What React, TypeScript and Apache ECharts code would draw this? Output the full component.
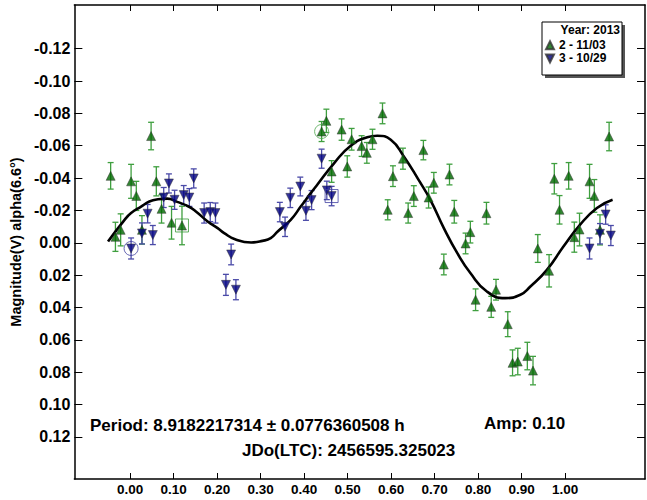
import React, { useEffect, useRef } from "react";
import * as echarts from "echarts";

// [phase, magnitude, error]
const session2: number[][] = [
  [-0.045, -0.0414, 0.0082], [0.048, -0.066, 0.0085], [0.002, -0.038, 0.0105], [0.014, -0.029, 0.009],
  [0.06, -0.038, 0.009], [-0.034, -0.0037, 0.009], [-0.022, -0.008, 0.0099], [0.027, -0.008, 0.0088],
  [0.072, -0.021, 0.0088], [0.095, -0.0124, 0.0101], [0.119, -0.0107, 0.0119], [0.451, -0.0754, 0.0072],
  [0.44, -0.0688, 0.0062], [0.486, -0.07, 0.0066], [0.509, -0.064, 0.0067], [0.532, -0.0598, 0.0064],
  [0.544, -0.0556, 0.0064], [0.557, -0.064, 0.0062], [0.58, -0.08, 0.0064], [0.463, -0.0441, 0.0067],
  [0.499, -0.0472, 0.0066], [0.627, -0.052, 0.0065], [0.604, -0.0412, 0.0064], [0.592, -0.0204, 0.0062],
  [0.639, -0.0184, 0.0062], [0.652, -0.0289, 0.0064], [0.674, -0.0573, 0.006], [0.698, -0.0371, 0.0064],
  [0.686, -0.028, 0.0065], [0.734, -0.0422, 0.0064], [0.745, -0.0192, 0.007], [0.819, -0.0183, 0.0067],
  [0.782, -0.0066, 0.0067], [0.771, 0.0004, 0.0064], [0.721, 0.0134, 0.0064], [0.841, 0.029, 0.0064],
  [0.794, 0.0352, 0.0067], [0.83, 0.0396, 0.0065], [0.868, 0.0503, 0.0077], [0.879, 0.0742, 0.008],
  [0.891, 0.0734, 0.0082], [0.913, 0.07, 0.0085], [0.926, 0.079, 0.0088], [0.937, 0.0035, 0.0086],
  [0.963, 0.0173, 0.01], [0.975, -0.0396, 0.0094], [0.987, -0.0204, 0.0088], [1.008, -0.0414, 0.0082],
  [1.021, -0.0035, 0.0093], [1.033, -0.0082, 0.0101], [1.056, -0.038, 0.0105], [1.067, -0.029, 0.0101],
  [1.101, -0.0657, 0.0088], [1.08, -0.008, 0.0093],
];

const session3: number[][] = [
  [0.002, 0.0035, 0.0065], [0.027, -0.0058, 0.0065], [0.04, -0.018, 0.0057], [0.052, -0.0048, 0.0059],
  [0.077, -0.028, 0.0062], [0.089, -0.0367, 0.0059], [0.102, -0.0266, 0.0059], [0.123, -0.0295, 0.0059],
  [0.136, -0.028, 0.0055], [0.146, -0.0398, 0.0059], [0.17, -0.0184, 0.0062], [0.184, -0.019, 0.0059],
  [0.196, -0.0184, 0.0062], [0.232, 0.0072, 0.0064], [0.22, 0.026, 0.0065], [0.243, 0.029, 0.0062],
  [0.344, -0.019, 0.006], [0.356, -0.0099, 0.006], [0.368, -0.0278, 0.006], [0.391, -0.0348, 0.0058],
  [0.404, -0.0198, 0.0059], [0.417, -0.0264, 0.0059], [0.44, -0.052, 0.0059], [0.452, -0.0324, 0.0057],
  [0.463, -0.0289, 0.006], [1.056, 0.0035, 0.0065], [1.08, -0.0056, 0.0063], [1.093, -0.0175, 0.006],
  [1.105, -0.0045, 0.0062],
];

const curvePhase = [
  -0.051, -0.013, 0.002, 0.025, 0.044, 0.064, 0.085, 0.108, 0.133, 0.151, 0.178, 0.201, 0.216, 0.241,
  0.278, 0.304, 0.323, 0.339, 0.369, 0.392, 0.415, 0.43, 0.469, 0.507, 0.545, 0.568, 0.599, 0.629,
  0.663, 0.69, 0.721, 0.752, 0.782, 0.82, 0.862, 0.897, 0.92, 0.958, 0.996, 1.034, 1.073, 1.109,
];
const curveMag = [
  -0.0008, -0.0142, -0.0184, -0.0224, -0.0255, -0.0269, -0.0273, -0.0253, -0.0226, -0.0194, -0.0132,
  -0.0091, -0.006, -0.0022, -0.0002, -0.0012, -0.0029, -0.007, -0.0142, -0.0224, -0.0307, -0.0359,
  -0.0493, -0.06, -0.0653, -0.0662, -0.0637, -0.0534, -0.0389, -0.0266, -0.0091, 0.0064, 0.0187,
  0.0301, 0.0342, 0.0321, 0.027, 0.0167, 0.0023, -0.0111, -0.0215, -0.0266,
];

const xTicks = [0, 0.1, 0.2, 0.3, 0.4, 0.5, 0.6, 0.7, 0.8, 0.9, 1.0];
const yTicks = [-0.12, -0.1, -0.08, -0.06, -0.04, -0.02, 0, 0.02, 0.04, 0.06, 0.08, 0.1, 0.12];

const seriesNames = ["2 - 11/03", "3 - 10/29"];
const yearLabel = "Year: 2013";
const yAxisName = "Magnitude(V) alpha(6.6°)";
const periodText = "Period: 8.9182217314 ± 0.0776360508 h";
const ampText = "Amp: 0.10";
const jdText = "JDo(LTC): 2456595.325023";

const X_MIN = -0.1284;
const X_MAX = 1.1835;
const Y_MIN = -0.147;
const Y_MAX = 0.146;

const FONT = "'Liberation Sans', Arial, sans-serif";
const GREEN = "#006800";
const GREEN_BAR = "#3f9f3f";
const NAVY = "#000080";
const NAVY_BAR = "#4a4aa8";
const DOWN_TRI = "path://M0,0L10,0L5,10Z";

function errorBars(data: number[][], color: string, name: string) {
  return {
    type: "custom",
    name,
    data,
    encode: { x: 0, y: 1 },
    z: 1,
    renderItem: (_params: any, api: any) => {
      const x = api.value(0);
      const y = api.value(1);
      const e = api.value(2);
      const a = api.coord([x, y - e]);
      const b = api.coord([x, y + e]);
      const cx = a[0];
      const w = 3;
      const style = { stroke: color, lineWidth: 1.3 };
      return {
        type: "group",
        children: [
          { type: "line", shape: { x1: cx, y1: a[1], x2: cx, y2: b[1] }, style },
          { type: "line", shape: { x1: cx - w, y1: a[1], x2: cx + w, y2: a[1] }, style },
          { type: "line", shape: { x1: cx - w, y1: b[1], x2: cx + w, y2: b[1] }, style },
        ],
      };
    },
  };
}

export default function App() {
  const ref = useRef<HTMLDivElement>(null);

  useEffect(() => {
    if (!ref.current) return;
    const chart = echarts.init(ref.current, null, { renderer: "svg" });

    const axisLine = { show: true, onZero: false, lineStyle: { color: "#000", width: 1.5 } };
    const hiddenLabel = { show: false };

    const option: any = {
      animation: false,
      backgroundColor: "#fff",
      grid: { left: 73, top: 5, width: 572, height: 474, containLabel: false },
      xAxis: [
        {
          type: "value",
          min: X_MIN,
          max: X_MAX,
          position: "bottom",
          axisLine,
          axisTick: { show: true, inside: true, length: 6, customValues: xTicks, lineStyle: { color: "#000", width: 1 } },
          axisLabel: {
            customValues: xTicks,
            formatter: (v: number) => v.toFixed(2),
            fontSize: 13.5,
            fontWeight: "bold",
            fontFamily: FONT,
            color: "#000",
            margin: 3,
          },
          splitLine: { show: false },
        },
        {
          type: "value",
          min: X_MIN,
          max: X_MAX,
          position: "top",
          axisLine,
          axisTick: { show: true, inside: true, length: 6, customValues: xTicks, lineStyle: { color: "#000", width: 1 } },
          axisLabel: hiddenLabel,
          splitLine: { show: false },
        },
      ],
      yAxis: [
        {
          type: "value",
          min: Y_MIN,
          max: Y_MAX,
          inverse: true,
          position: "left",
          axisLine,
          axisTick: { show: true, inside: true, length: 8, customValues: yTicks, lineStyle: { color: "#000", width: 1 } },
          axisLabel: {
            customValues: yTicks,
            formatter: (v: number) => v.toFixed(2),
            fontSize: 16,
            fontWeight: "bold",
            fontFamily: FONT,
            color: "#000",
            margin: 4,
          },
          splitLine: { show: false },
          name: yAxisName,
          nameLocation: "middle",
          nameRotate: 90,
          nameGap: 41,
          nameTextStyle: { fontSize: 14.5, fontWeight: "bold", fontFamily: FONT, color: "#000" },
        },
        {
          type: "value",
          min: Y_MIN,
          max: Y_MAX,
          inverse: true,
          position: "right",
          axisLine,
          axisTick: { show: true, inside: true, length: 8, customValues: yTicks, lineStyle: { color: "#000", width: 1 } },
          axisLabel: hiddenLabel,
          splitLine: { show: false },
        },
      ],
      legend: {
        data: [
          { name: seriesNames[0], icon: "triangle" },
          { name: seriesNames[1], icon: DOWN_TRI },
        ],
        orient: "vertical",
        left: 545,
        top: 38.5,
        itemWidth: 8,
        itemHeight: 8,
        itemGap: 0,
        padding: 0,
        selectedMode: false,
        z: 20,
        textStyle: { fontSize: 12, fontWeight: "bold", fontFamily: FONT, color: "#000", lineHeight: 13.3 },
      },
      graphic: [
        { type: "rect", z: 15, shape: { x: 545, y: 25, width: 80, height: 53 }, style: { fill: "#555" } },
        { type: "rect", z: 16, shape: { x: 542, y: 22, width: 80, height: 53 }, style: { fill: "#fff", stroke: "#000", lineWidth: 1 } },
        {
          type: "text", z: 17, x: 620, y: 30,
          style: { text: yearLabel, fontSize: 12, fontWeight: "bold", fontFamily: FONT, fill: "#000", align: "right", verticalAlign: "middle" },
        },
        {
          type: "text", z: 17, x: 90, y: 425,
          style: { text: periodText, fontSize: 17, fontWeight: "bold", fontFamily: FONT, fill: "#000", align: "left", verticalAlign: "middle" },
        },
        {
          type: "text", z: 17, x: 484, y: 423,
          style: { text: ampText, fontSize: 17, fontWeight: "bold", fontFamily: FONT, fill: "#000", align: "left", verticalAlign: "middle" },
        },
        {
          type: "text", z: 17, x: 242, y: 450,
          style: { text: jdText, fontSize: 17, fontWeight: "bold", fontFamily: FONT, fill: "#000", align: "left", verticalAlign: "middle" },
        },
      ],
      series: [
        errorBars(session2, GREEN_BAR, "err2"),
        errorBars(session3, NAVY_BAR, "err3"),
        {
          type: "line",
          name: "fit",
          data: curvePhase.map((p, i) => [p, curveMag[i]]),
          smooth: true,
          symbol: "none",
          lineStyle: { color: "#000", width: 2.6 },
          z: 2,
        },
        {
          type: "scatter",
          name: seriesNames[0],
          data: session2.map((p) => [p[0], p[1]]),
          symbol: "triangle",
          symbolSize: [9, 9],
          itemStyle: { color: GREEN, borderColor: "#333", borderWidth: 0.6 },
          z: 3,
        },
        {
          type: "scatter",
          name: seriesNames[1],
          data: session3.map((p) => [p[0], p[1]]),
          symbol: DOWN_TRI,
          symbolSize: [9, 9],
          itemStyle: { color: NAVY, borderColor: "#333", borderWidth: 0.6 },
          z: 3,
        },
        {
          type: "scatter",
          name: "circles",
          symbol: "circle",
          symbolSize: 14,
          z: 4,
          data: [
            { value: [session3[0][0], session3[0][1]], itemStyle: { color: "rgba(0,0,0,0)", borderColor: "#4040a0", borderWidth: 1 } },
            { value: [session2[12][0], session2[12][1]], itemStyle: { color: "rgba(0,0,0,0)", borderColor: "#50a850", borderWidth: 1 } },
          ],
        },
        {
          type: "scatter",
          name: "squares",
          symbol: "rect",
          symbolSize: 13,
          z: 4,
          data: [
            { value: [session2[10][0], session2[10][1]], itemStyle: { color: "rgba(0,0,0,0)", borderColor: "#3a9a3a", borderWidth: 1 } },
            { value: [session3[24][0], session3[24][1]], itemStyle: { color: "rgba(0,0,0,0)", borderColor: "#4040a0", borderWidth: 1 } },
          ],
        },
      ],
    };

    chart.setOption(option);
    return () => chart.dispose();
  }, []);

  return (
    <div
      ref={ref}
      style={{ position: "fixed", left: 0, top: 0, width: 647, height: 500, background: "#fff" }}
    />
  );
}
